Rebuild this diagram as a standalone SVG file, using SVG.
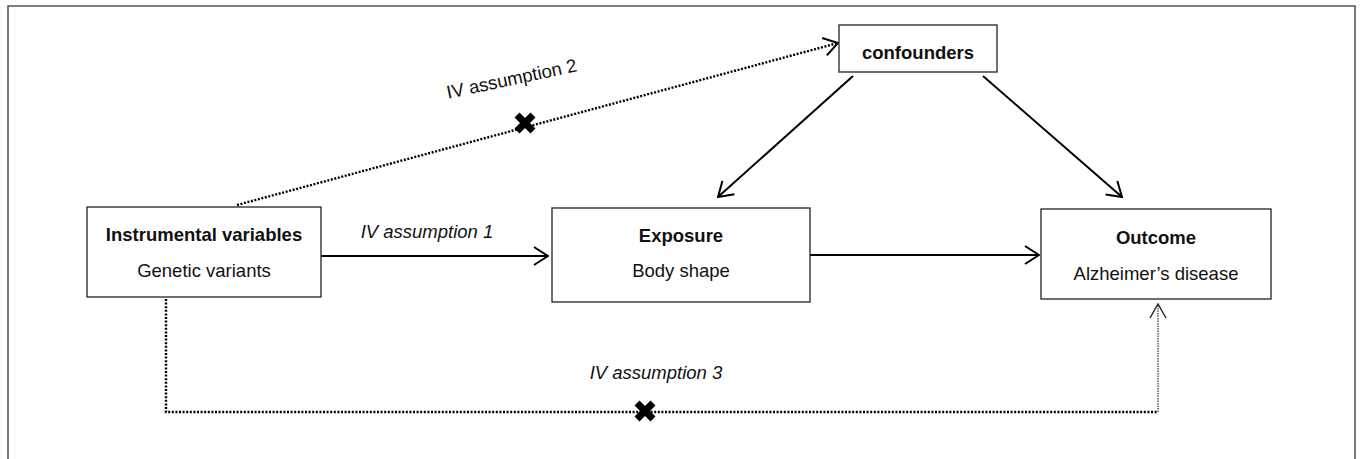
<svg xmlns="http://www.w3.org/2000/svg" width="1360" height="459" viewBox="0 0 1360 459">
<style>
.box{fill:#fff;stroke:#333;stroke-width:1.4}
.t{font-family:"Liberation Sans",Arial,sans-serif;font-size:18.5px;fill:#111;text-anchor:middle}
.b{font-weight:bold}
.i{font-style:italic}
.solid{fill:none;stroke:#000;stroke-width:2}
.dot{fill:none;stroke:#000;stroke-width:2.4;stroke-dasharray:2 1.6}
.thin{fill:none;stroke:#333;stroke-width:1.2;stroke-dasharray:1.5 1}
.cross{stroke:#000;stroke-width:7}
</style>
<defs>
<marker id="open" viewBox="0 0 16 20" refX="15" refY="10" markerWidth="16" markerHeight="20" markerUnits="userSpaceOnUse" orient="auto">
<path d="M1,1 L15,10 L1,19" fill="none" stroke="#000" stroke-width="2"/>
</marker>
<marker id="openthin" viewBox="0 0 16 20" refX="15" refY="10" markerWidth="16" markerHeight="20" markerUnits="userSpaceOnUse" orient="auto">
<path d="M1,2 L15,10 L1,18" fill="none" stroke="#222" stroke-width="1.4"/>
</marker>
</defs>
<rect width="1360" height="459" fill="#fff"/>
<path d="M8,459 V6 H1355 V459" fill="none" stroke="#555" stroke-width="1.6"/>

<g id="connectors">
<line class="solid" x1="321" y1="256" x2="548" y2="256" marker-end="url(#open)"/>
<line class="solid" x1="810" y1="255" x2="1039" y2="255" marker-end="url(#open)"/>
<line class="solid" x1="853" y1="76" x2="718" y2="197" marker-end="url(#open)"/>
<line class="solid" x1="983" y1="76" x2="1122" y2="197" marker-end="url(#open)"/>
<line class="dot" x1="237" y1="205" x2="838" y2="43" marker-end="url(#open)"/>
<path class="dot" d="M166,299 V412 H1158"/>
<path class="thin" d="M1158,412 V304" marker-end="url(#openthin)"/>
<g id="cross2" transform="translate(525,123)"><line class="cross" x1="-8" y1="-8" x2="8" y2="8"/><line class="cross" x1="-8" y1="8" x2="8" y2="-8"/></g>
<g id="cross3" transform="translate(645,411)"><line class="cross" x1="-8" y1="-8" x2="8" y2="8"/><line class="cross" x1="-8" y1="8" x2="8" y2="-8"/></g>
<text class="t i" x="427" y="238">IV assumption 1</text>
<text class="t" transform="translate(513,85) rotate(-12)" x="0" y="0">IV assumption 2</text>
<text class="t i" x="656" y="379">IV assumption 3</text>
</g>

<g id="confounders">
<rect class="box" x="839" y="25" width="158" height="47"/>
<text class="t b" x="918" y="59">confounders</text>
</g>
<g id="instrumental">
<rect class="box" x="87" y="207" width="234" height="90"/>
<text class="t b" x="204" y="241">Instrumental variables</text>
<text class="t" x="204" y="277">Genetic variants</text>
</g>
<g id="exposure">
<rect class="box" x="552" y="208" width="258" height="94"/>
<text class="t b" x="681" y="242">Exposure</text>
<text class="t" x="681" y="277">Body shape</text>
</g>
<g id="outcome">
<rect class="box" x="1041" y="209" width="230" height="90"/>
<text class="t b" x="1156" y="244">Outcome</text>
<text class="t" x="1156" y="280">Alzheimer’s disease</text>
</g>
</svg>
